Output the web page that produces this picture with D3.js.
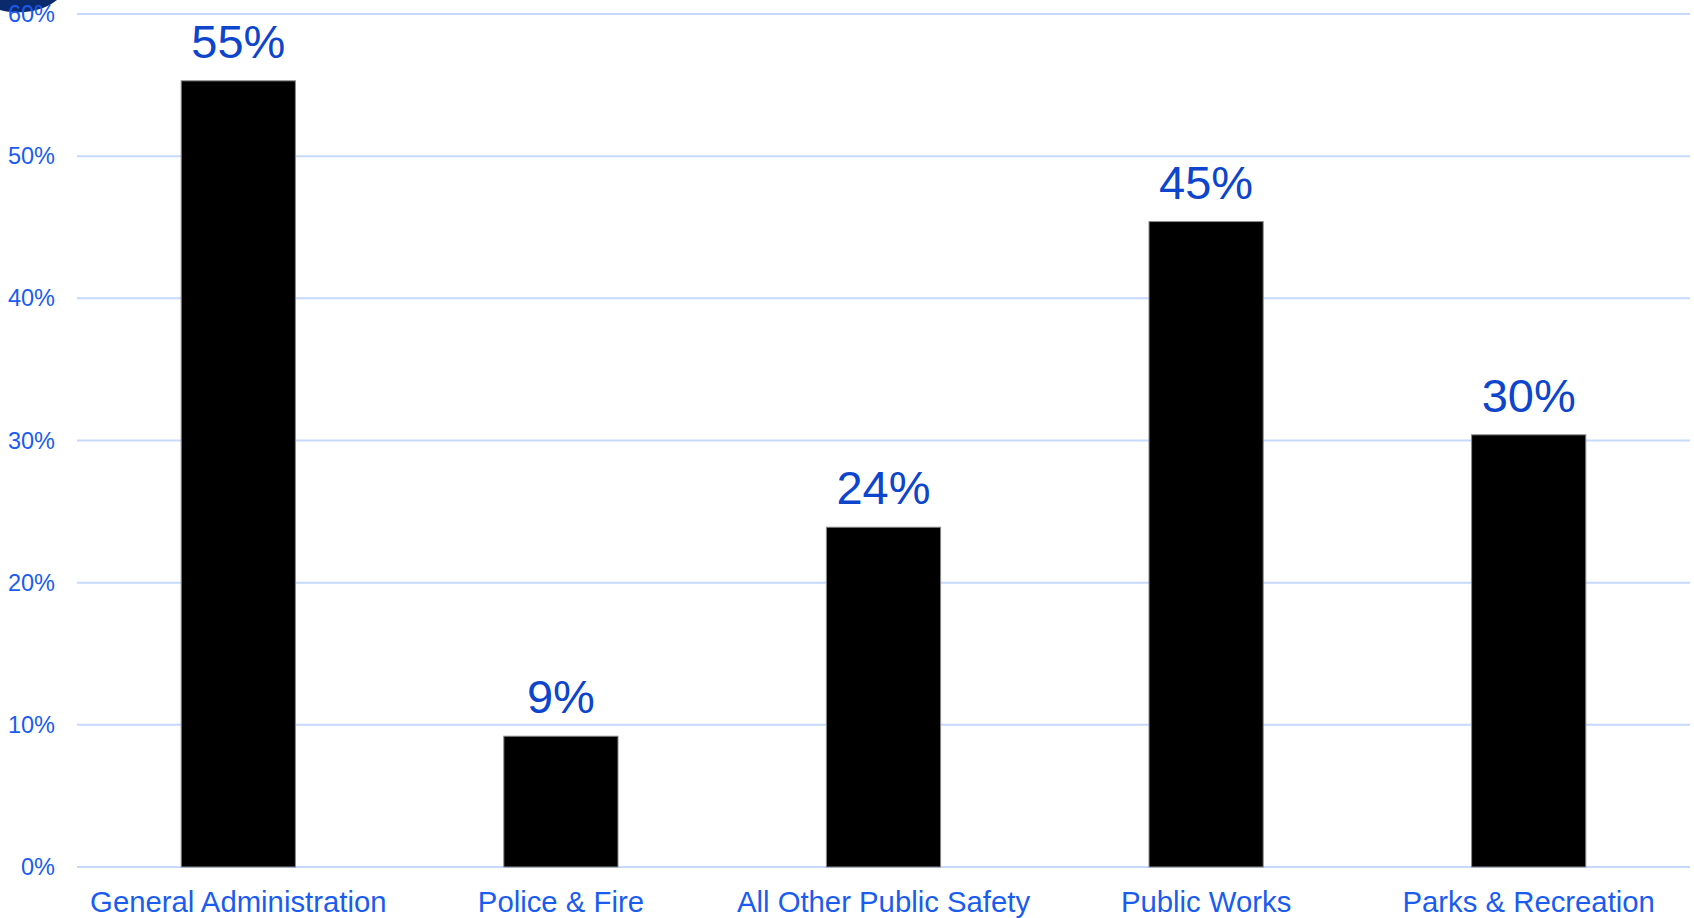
<!DOCTYPE html>
<html>
<head>
<meta charset="utf-8">
<script src="https://cdn.jsdelivr.net/npm/d3@7"></script>
<style>
  body { margin: 0; background: #fff; }
  text { font-family: "Liberation Sans", Arial, sans-serif; }
</style>
</head>
<body>
<script>
// data
var categories = ["General Administration", "Police & Fire", "All Other Public Safety", "Public Works", "Parks & Recreation"];
var values = [55.3, 9.2, 23.9, 45.4, 30.4];
var valueLabels = ["55%", "9%", "24%", "45%", "30%"];
var ticks = [0, 10, 20, 30, 40, 50, 60];

var W = 1694, H = 918;
var plotLeft = 77, plotRight = 1690, plotTop = 14, plotBottom = 867;

var svg = d3.select("body").append("svg")
  .attr("width", W)
  .attr("height", H);

var x = d3.scaleBand()
  .domain(categories)
  .range([plotLeft, plotRight])
  .paddingInner(0.646)
  .paddingOuter(0.323);

var y = d3.scaleLinear()
  .domain([0, 60])
  .range([plotBottom, plotTop]);

// gridlines
svg.append("g").selectAll("line")
  .data(ticks)
  .enter().append("line")
  .attr("x1", plotLeft)
  .attr("x2", plotRight)
  .attr("y1", function(d) { return y(d); })
  .attr("y2", function(d) { return y(d); })
  .attr("stroke", "#c6d9fb")
  .attr("stroke-width", 2);

// navy blob in the top left corner
svg.append("path")
  .attr("d", "M0,0 L57,0 Q45,10 25,12 Q10,13 0,10 Z")
  .attr("fill", "#0b2a6b");

// y tick labels
var yAxis = d3.axisLeft(y)
  .tickValues(ticks)
  .tickFormat(function(d) { return d + "%"; })
  .tickSize(0)
  .tickPadding(22);

var ya = svg.append("g")
  .attr("transform", "translate(" + plotLeft + ",0)")
  .call(yAxis);
ya.select(".domain").remove();
ya.selectAll("text")
  .attr("fill", "#1a5cf0")
  .style("font-size", "23.5px")
  .style("font-family", "Liberation Sans, Arial, sans-serif");

// bars
svg.append("g").selectAll("rect")
  .data(values)
  .enter().append("rect")
  .attr("x", function(d, i) { return x(categories[i]); })
  .attr("width", x.bandwidth())
  .attr("y", function(d) { return y(d); })
  .attr("height", function(d) { return y(0) - y(d); })
  .attr("fill", "#000")
  .attr("stroke", "#8a8a8a")
  .attr("stroke-width", 1);

// value labels
svg.append("g").selectAll("text")
  .data(values)
  .enter().append("text")
  .attr("x", function(d, i) { return x(categories[i]) + x.bandwidth() / 2; })
  .attr("y", function(d) { return y(d) - 23; })
  .attr("text-anchor", "middle")
  .attr("fill", "#0d45cc")
  .style("font-size", "47px")
  .text(function(d, i) { return valueLabels[i]; });

// category labels
var xAxis = d3.axisBottom(x).tickSize(0).tickPadding(0);
var xa = svg.append("g")
  .attr("transform", "translate(0," + plotBottom + ")")
  .call(xAxis);
xa.select(".domain").remove();
xa.selectAll("text")
  .attr("dy", null)
  .attr("y", 45)
  .attr("fill", "#1a5cf0")
  .style("font-size", "29.3px")
  .style("font-family", "Liberation Sans, Arial, sans-serif");
</script>
</body>
</html>
